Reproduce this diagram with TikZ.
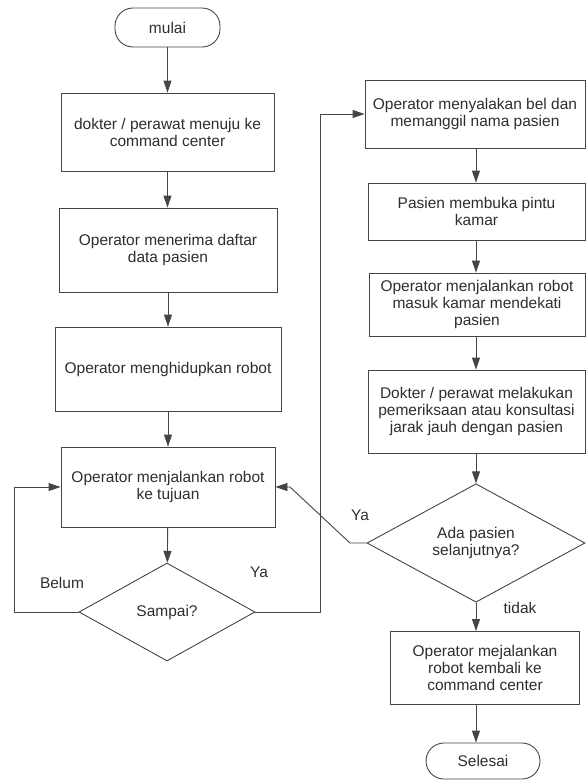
\documentclass[tikz,border=0pt]{standalone}
\usepackage{fontspec}
\setmainfont{Liberation Sans}
\usetikzlibrary{shapes.geometric,arrows.meta}
\definecolor{ln}{HTML}{454545}
\definecolor{tx}{HTML}{2E2E2E}
\begin{document}
\begin{tikzpicture}[x=1pt,y=-1pt,
  every node/.style={font=\fontsize{15.5}{17}\selectfont, text=tx},
  box/.style={draw=ln, line width=0.9pt, rectangle, align=center, inner sep=0pt},
  term/.style={box, rounded corners=18pt},
  dec/.style={draw=ln, line width=0.9pt, diamond, align=center, inner sep=0pt},
  arr/.style={draw=ln, line width=0.9pt, -{Triangle[length=12pt,width=8pt]}},
  lab/.style={inner sep=0pt}]
\useasboundingbox (0,0) rectangle (586,780);
% left column
\node[term, minimum width=105, minimum height=39] (mulai) at (167.5,27.5) {mulai};
\node[box, minimum width=213, minimum height=78] (b1) at (167.5,132) {dokter / perawat menuju ke\\command center};
\node[box, minimum width=218, minimum height=84] (b2) at (168,250) {Operator menerima daftar\\data pasien};
\node[box, minimum width=226, minimum height=84] (b3) at (168,369) {Operator menghidupkan robot};
\node[box, minimum width=214, minimum height=80] (b4) at (168,487) {Operator menjalankan robot\\ke tujuan};
\node[dec, minimum width=176, minimum height=98] (d1) at (167,612) {Sampai?};
% right column
\node[box, minimum width=220, minimum height=68] (r1) at (475,114) {Operator menyalakan bel dan\\memanggil nama pasien};
\node[box, minimum width=217, minimum height=57] (r2) at (476.5,211.5) {Pasien membuka pintu\\kamar};
\node[box, minimum width=216, minimum height=63] (r3) at (477,304.5) {Operator menjalankan robot\\masuk kamar mendekati\\pasien};
\node[box, minimum width=217, minimum height=83] (r4) at (476.5,411.5) {Dokter / perawat melakukan\\pemeriksaan atau konsultasi\\jarak jauh dengan pasien};
\node[dec, minimum width=218, minimum height=106] (d2) at (476,543) {Ada pasien\\selanjutnya?};
\node[box, minimum width=189, minimum height=73] (r5) at (485,668) {Operator mejalankan\\robot kembali ke\\command center};
\node[term, minimum width=114, minimum height=36] (sel) at (483,761) {Selesai};
% helper coordinates
\coordinate (lx) at (14,0);
\coordinate (yx) at (320,0);
\coordinate (k1) at (350,543);
\coordinate (k2) at (290,487);
% connectors left
\draw[arr] (mulai) -- (b1);
\draw[arr] (b1.south |- b1.south) -- (b1.south |- b2.north);
\draw[arr] (b2) -- (b3);
\draw[arr] (b3) -- (b4);
\draw[arr] (b4) -- (d1);
\draw[arr] (d1.west) -- (d1.west -| lx) |- (b4.west);
\draw[arr] (d1.east) -- (d1.east -| yx) |- (r1.west);
% connectors right
\draw[arr] (d2.north |- r1.south) -- (d2.north |- r2.north);
\draw[arr] (d2.north |- r2.south) -- (d2.north |- r3.north);
\draw[arr] (d2.north |- r3.south) -- (d2.north |- r4.north);
\draw[arr] (d2.north |- r4.south) -- (d2.north);
\draw[arr] (d2.south) -- (d2.south |- r5.north);
\draw[arr] (d2.south |- r5.south) -- (d2.south |- sel.north);
\draw[arr] (d2.west) -- (k1) -- (k2) -- (b4.east);
% labels
\node[lab] (lbelum) at (62,583) {Belum};
\node[lab] (lya1) at (259,572) {Ya};
\node[lab] (lya2) at (360,515) {Ya};
\node[lab] (ltidak) at (520,608) {tidak};
\end{tikzpicture}
\end{document}
